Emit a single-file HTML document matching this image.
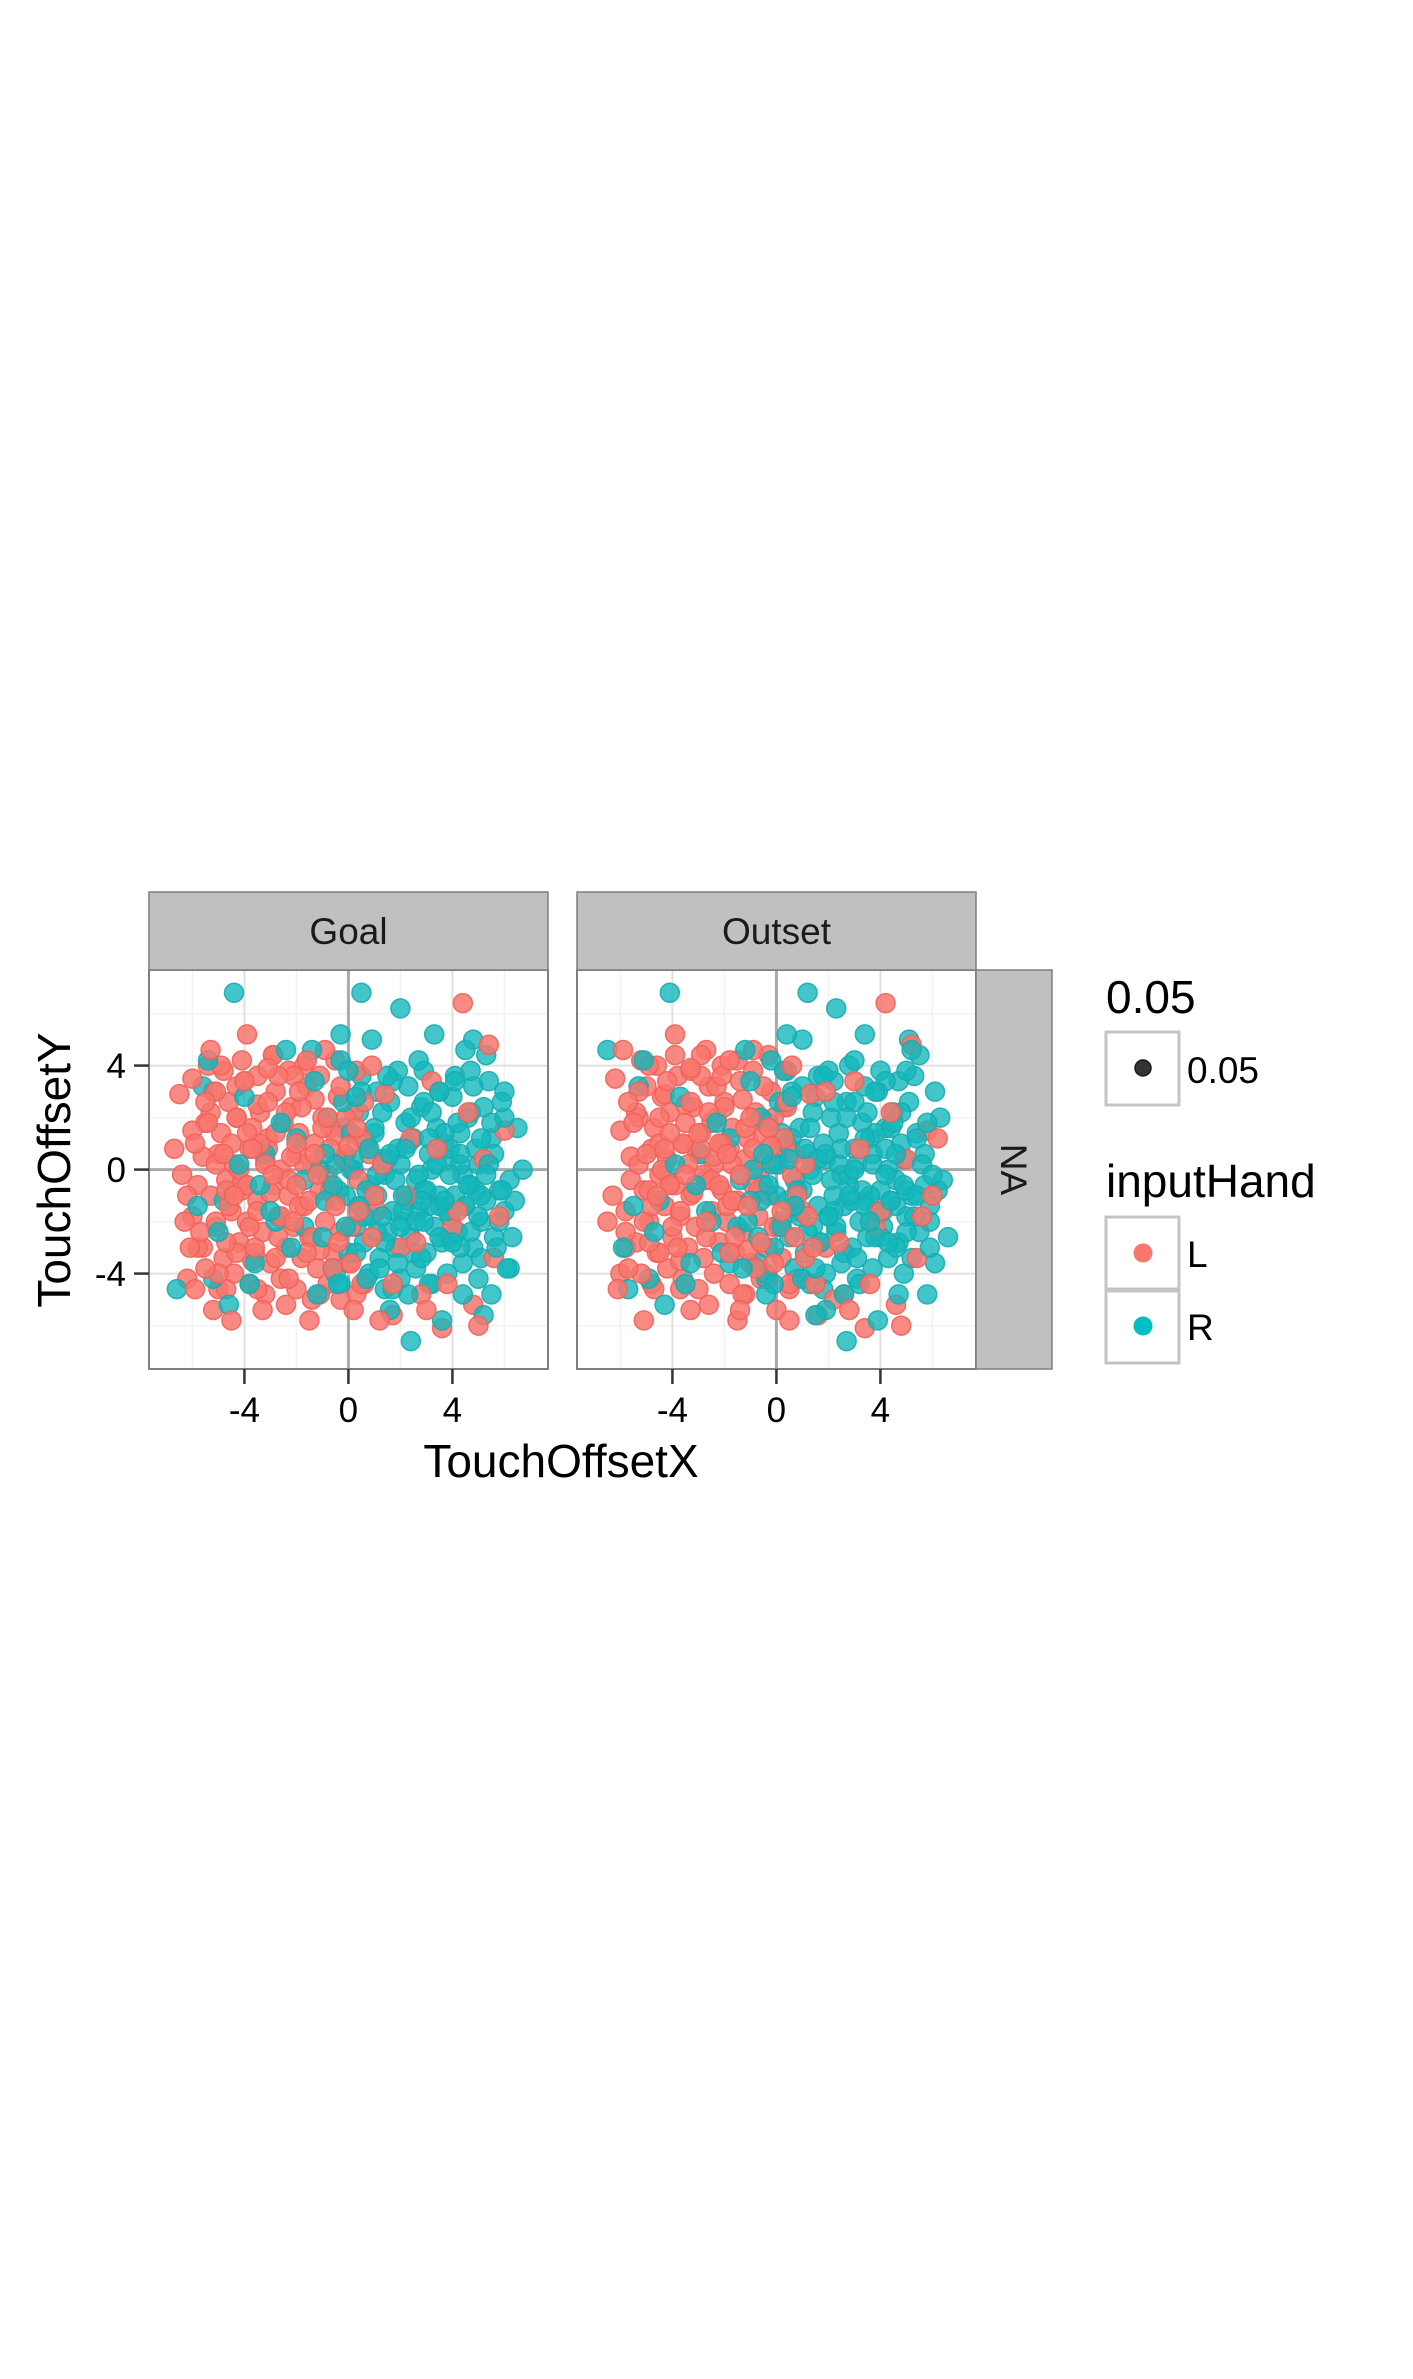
<!DOCTYPE html>
<html><head><meta charset="utf-8"><style>
html,body{margin:0;padding:0;background:#fff;}
svg{display:block;font-family:"Liberation Sans",Arial,sans-serif;}
</style></head><body>
<svg id="chart" width="1413" height="2379" viewBox="0 0 1413 2379" xmlns="http://www.w3.org/2000/svg">
<rect width="1413" height="2379" fill="#fff"/>
<g id="panels"></g>
<g id="strips">
<rect x="149" y="892" width="399" height="78" fill="#c0c0c0" stroke="#7f7f7f" stroke-width="1.5"/>
<text x="348.5" y="944" font-size="37" text-anchor="middle" fill="#1a1a1a">Goal</text>
<rect x="577" y="892" width="399" height="78" fill="#c0c0c0" stroke="#7f7f7f" stroke-width="1.5"/>
<text x="776.5" y="944" font-size="37" text-anchor="middle" fill="#1a1a1a">Outset</text>
<rect x="976" y="970" width="76" height="399" fill="#c0c0c0" stroke="#7f7f7f" stroke-width="1.5"/>
<text transform="translate(1001,1169.5) rotate(90)" font-size="37" text-anchor="middle" fill="#1a1a1a">NA</text>
</g>
<text transform="translate(70,1170) rotate(-90)" font-size="46" text-anchor="middle" fill="#000">TouchOffsetY</text>
<text x="561" y="1477" font-size="46" text-anchor="middle" fill="#000">TouchOffsetX</text>
<g>
<text x="1106" y="1013" font-size="46" fill="#000">0.05</text>
<rect x="1106" y="1032" width="73" height="73" fill="#fff" stroke="#c4c4c4" stroke-width="3"/>
<circle cx="1143" cy="1068" r="8" fill="#333" stroke="#1a1a1a" stroke-width="1.5"/>
<text x="1187" y="1083" font-size="37" fill="#000">0.05</text>
<text x="1106" y="1197" font-size="46" fill="#000">inputHand</text>
<rect x="1106" y="1217" width="73" height="72" fill="#fff" stroke="#c4c4c4" stroke-width="3"/>
<circle cx="1143" cy="1253" r="9.5" fill="#F8766D"/>
<text x="1187" y="1267" font-size="37" fill="#000">L</text>
<rect x="1106" y="1291" width="73" height="72" fill="#fff" stroke="#c4c4c4" stroke-width="3"/>
<circle cx="1143" cy="1326" r="9.5" fill="#00BFC4"/>
<text x="1187" y="1340" font-size="37" fill="#000">R</text>
</g>
</svg>
<script>
const xTicks=[-4,0,4];
const yTicks=[4,0,-4];
const tickLabels=["-4","0","4"];
const yTickLabels=["4","0","-4"];
const facets=["Goal","Outset"];

const goalLX=[-6.5,-6.2,-6.0,-5.8,-5.6,-5.3,-5.1,-4.9,-4.7,-4.5,-4.3,-4.1,-3.9,-3.7,-3.5,-3.3,-3.1,-2.9,-2.7,-2.5,-2.3,-2.1,-1.9,-1.7,-1.5,-1.3,-1.1,-0.9,-0.7,-0.5,-0.3,-0.1,0.1,0.3,0.5,0.8,1.1,1.4,1.7,2.0,2.4,2.8,3.2,3.6,4.0,4.4,4.8,5.2,5.6,6.0,-6.4,-6.0,-5.7,-5.4,-5.0,-4.6,-4.2,-3.8,-3.4,-3.0,-2.6,-2.2,-1.8,-1.4,-1.0,-0.6,-0.2,0.2,0.6,1.0,-5.9,-5.5,-5.1,-4.7,-4.3,-3.9,-3.5,-3.1,-2.7,-2.3,-1.9,-1.5,-1.1,-0.7,-0.3,0.1,0.5,0.9,1.3,1.7,-6.7,-6.3,-5.9,-5.5,-5.1,-4.7,-4.3,-3.9,-3.5,-3.1,-2.8,-2.4,-2.0,-1.6,-1.2,-0.8,-0.4,0.0,0.4,0.9,-5.2,-4.8,-4.4,-4.0,-3.6,-3.2,-2.8,-2.4,-2.0,-1.6,2.2,2.6,3.0,3.4,3.8,4.2,4.6,5.0,5.4,5.8,-6.1,-5.3,-4.5,-3.7,-2.9,-2.1,-1.3,-0.5,0.3,1.2];
const goalLY=[2.9,-1.0,1.5,-3.0,0.5,2.2,-2.0,4.0,-4.6,1.0,3.2,-0.5,5.2,-3.5,2.5,-5.4,0.8,4.4,-2.6,1.8,-4.2,3.6,-1.4,0.2,-5.8,2.7,-3.1,4.6,-0.8,1.3,-5.0,2.0,-2.2,3.8,-4.4,0.6,-1.6,2.9,-5.6,-3.0,1.2,-4.8,3.4,-6.1,-2.2,6.4,-5.2,0.4,-3.4,1.5,-0.2,3.5,-2.4,1.8,-4.0,-1.4,0.0,-2.2,1.0,-0.9,-1.8,0.5,2.4,-2.6,1.6,-3.8,0.4,-5.4,2.6,-1.0,1.0,-3.8,3.0,-0.8,-3.2,1.4,-4.6,2.6,3.6,-0.4,3.0,-1.2,-4.8,0.8,3.2,-3.6,1.2,-2.6,0.2,-4.4,0.8,-2.0,-4.6,2.6,0.2,-2.8,2.0,-0.6,-1.6,3.9,-3.4,2.2,-0.6,4.2,-0.2,2.0,-2.8,0.9,-1.6,4.0,-5.4,0.6,-1.0,3.4,-3.0,0.2,1.4,-5.2,1.0,-3.2,-1.0,-2.8,-5.4,0.8,-4.4,-1.6,2.2,-6.0,4.8,-1.8,-3.0,4.6,-5.8,0.8,-0.2,-2.0,0.6,-1.4,1.6,-5.8];
const goalRX=[6.5,6.2,6.0,5.8,5.6,5.3,5.1,4.9,4.7,4.5,4.3,4.1,3.9,3.7,3.5,3.3,3.1,2.9,2.7,2.5,2.3,2.1,1.9,1.7,1.5,1.3,1.1,0.9,0.7,0.5,0.3,0.1,-0.1,-0.3,-0.5,-0.8,-1.1,-1.4,-1.7,-2.0,-2.4,-2.8,-3.2,-3.6,-4.0,-4.4,-4.8,-5.2,-5.6,-6.6,6.4,6.0,5.7,5.4,5.0,4.6,4.2,3.8,3.4,3.0,2.6,2.2,1.8,1.4,1.0,0.6,0.2,-0.2,-0.6,-1.0,5.9,5.5,5.1,4.7,4.3,3.9,3.5,3.1,2.7,2.3,1.9,1.5,1.1,0.7,0.3,-0.1,-0.5,-0.9,-1.3,-1.7,6.7,6.3,5.9,5.5,5.1,4.7,4.3,3.9,3.5,3.1,2.8,2.4,2.0,1.6,1.2,0.8,0.4,0.0,-0.4,-0.9,5.2,4.8,4.4,4.0,3.6,3.2,2.8,2.4,2.0,1.6,-2.2,-2.6,-3.0,-3.4,-3.8,-4.2,-4.6,-5.0,-5.4,-5.8,6.1,5.3,4.5,3.7,2.9,2.1,1.3,0.5,-0.3,-1.2];
const goalRY=[1.6,-0.4,3.0,-2.0,0.6,4.4,-3.4,-0.8,2.2,-1.4,0.2,3.4,-2.6,1.4,-1.0,5.2,-4.4,2.6,-0.2,-3.2,1.0,-1.6,3.8,-4.6,0.4,2.2,-2.4,5.0,-0.8,3.0,-3.2,1.4,-1.0,4.2,-4.0,2.0,0.0,4.6,-2.2,1.2,4.6,-2.0,0.6,-3.6,2.8,6.8,-1.2,-4.2,3.2,-4.6,-1.2,2.0,-3.0,0.2,-1.8,-0.6,1.8,-1.6,0.2,-0.8,-2.0,0.8,-0.4,-2.8,1.6,-1.8,0.4,2.6,-0.6,-2.6,2.6,-4.8,1.2,3.8,-3.0,0.8,3.0,-1.4,4.2,-4.8,-3.6,3.6,-0.2,-4.2,2.8,-2.2,0.2,-1.2,3.4,-0.4,0.0,-2.6,-0.8,1.8,-1.0,-2.4,0.6,-0.2,-2.6,1.2,-1.2,2.0,-2.2,0.6,-3.8,0.8,-1.4,3.8,-4.4,0.6,-5.6,5.0,-4.8,-2.8,-5.8,2.2,-3.4,-6.6,6.2,-5.4,-3.0,1.8,-1.6,-0.6,-4.4,0.2,-5.2,-2.4,4.2,-1.4,-3.8,-0.2,4.6,-1.2,-2.0,-1.0,-1.8,6.8,5.2,-4.8];
const goalLCoreX=[-5.2,-4.6,-4.0,-3.4,-2.8,-2.2,-1.6,-1.0,-0.4,0.2,-5.5,-4.9,-4.3,-3.7,-3.1,-2.5,-1.9,-1.3,-0.7,-0.1,-5.0,-4.4,-3.8,-3.2,-2.6,-2.0,-1.4,-0.8,-0.2,0.4,-5.8,-5.3,-4.7,-4.1,-3.5,-2.9,-2.3,-1.7,-1.1,-0.5,-6.0,-5.1,-4.5,-3.9,-3.3,-2.7,-2.1,-1.5,-0.9,-0.3,-5.6,-4.8,-4.2,-3.6,-3.0,-2.4,-1.8,-1.2,-0.6,0.0,-5.4,-4.8,-4.1,-3.5,-2.9,-2.3,-1.7,-1.1,-0.5,0.6,-6.2,-5.0,-4.4,-3.8,-3.2,-2.6,-2.0,-1.4,-0.8,0.3];
const goalLCoreY=[3.0,2.6,3.4,2.2,3.0,2.4,3.2,2.0,2.8,2.2,1.8,1.4,2.0,1.6,1.2,1.8,1.4,1.0,1.6,0.6,0.6,0.2,0.8,0.4,0.0,0.6,0.2,-0.2,0.4,-0.4,-0.6,-1.0,-0.4,-0.8,-1.2,-0.6,-1.0,-1.4,-0.8,-1.2,-1.8,-2.2,-1.6,-2.0,-2.4,-1.8,-2.2,-2.6,-2.0,-2.4,-3.0,-3.4,-2.8,-3.2,-3.6,-3.0,-3.4,-3.8,-3.2,-3.6,4.0,3.8,4.2,3.6,4.4,3.8,4.0,3.6,4.2,-4.4,-4.2,-4.6,-4.0,-4.4,-4.8,-4.2,-4.6,-5.0,-4.4,-4.8];
const goalRCoreX=[5.2,4.6,4.0,3.4,2.8,2.2,1.6,1.0,0.4,-0.2,5.5,4.9,4.3,3.7,3.1,2.5,1.9,1.3,0.7,0.1,5.0,4.4,3.8,3.2,2.6,2.0,1.4,0.8,0.2,-0.4,5.8,5.3,4.7,4.1,3.5,2.9,2.3,1.7,1.1,0.5,6.0,5.1,4.5,3.9,3.3,2.7,2.1,1.5,0.9,0.3,5.6,4.8,4.2,3.6,3.0,2.4,1.8,1.2,0.6,0.0,5.4,4.8,4.1,3.5,2.9,2.3,1.7,1.1,0.5,-0.6,6.2,5.0,4.4,3.8,3.2,2.6,2.0,1.4,0.8,-0.3];
const goalRCoreY=[2.4,2.0,2.8,1.6,2.4,1.8,2.6,1.4,2.2,1.6,1.2,0.8,1.4,1.0,0.6,1.2,0.8,0.4,1.0,0.0,0.2,-0.2,0.4,0.0,-0.4,0.2,-0.2,-0.6,0.0,-0.8,-0.8,-1.2,-0.6,-1.0,-1.4,-0.8,-1.2,-1.6,-1.0,-1.4,-1.6,-2.0,-1.4,-1.8,-2.2,-1.6,-2.0,-2.4,-1.8,-2.2,-2.6,-3.0,-2.4,-2.8,-3.2,-2.6,-3.0,-3.4,-2.8,-3.2,3.4,3.2,3.6,3.0,3.8,3.2,3.4,3.0,3.6,-3.8,-3.8,-4.2,-3.6,-4.0,-4.4,-3.8,-4.2,-4.6,-4.0,-4.4];
const outsetLX=[-6.3,-6.0,-5.8,-5.6,-5.4,-5.1,-4.9,-4.7,-4.5,-4.3,-4.1,-3.9,-3.7,-3.5,-3.3,-3.1,-2.9,-2.7,-2.5,-2.3,-2.1,-1.9,-1.7,-1.5,-1.3,-1.1,-0.9,-0.7,-0.5,-0.3,-0.1,0.1,0.3,0.5,0.7,1.0,1.3,1.6,1.9,2.2,2.6,3.0,3.4,3.8,4.2,4.6,5.0,5.4,5.8,6.2,-6.2,-5.8,-5.5,-5.2,-4.8,-4.4,-4.0,-3.6,-3.2,-2.8,-2.4,-2.0,-1.6,-1.2,-0.8,-0.4,0.0,0.4,0.8,1.2,-5.7,-5.3,-4.9,-4.5,-4.1,-3.7,-3.3,-2.9,-2.5,-2.1,-1.7,-1.3,-0.9,-0.5,-0.1,0.3,0.7,1.1,1.5,1.9,-6.5,-6.1,-5.7,-5.3,-4.9,-4.5,-4.1,-3.7,-3.3,-2.9,-2.6,-2.2,-1.8,-1.4,-1.0,-0.6,-0.2,0.2,0.6,1.1,-5.0,-4.6,-4.2,-3.8,-3.4,-3.0,-2.6,-2.2,-1.8,-1.4,2.4,2.8,3.2,3.6,4.0,4.4,4.8,5.2,5.6,6.0,-5.9,-5.1,-4.3,-3.5,-2.7,-1.9,-1.1,-0.3,0.5,1.4];
const outsetLY=[-1.0,1.5,-3.0,0.5,2.2,-2.0,4.0,-4.6,1.0,2.9,-0.5,5.2,-3.5,2.5,-5.4,0.8,4.4,-2.6,1.8,3.2,3.6,-1.4,0.2,-5.8,2.7,-3.1,4.6,-0.8,1.3,-4.2,2.0,-2.2,3.8,-4.4,0.6,-1.6,2.9,-5.6,-3.0,-5.0,-4.8,3.4,-6.1,-2.2,6.4,-5.2,0.4,-3.4,1.5,1.2,3.5,-2.4,1.8,-4.0,-1.4,0.0,-2.2,1.0,-0.9,-0.2,0.5,2.4,-2.6,1.6,-3.8,0.4,-5.4,2.6,-1.0,-1.8,-3.8,3.0,-0.8,-3.2,1.4,-4.6,2.6,3.6,-0.4,1.0,-1.2,-4.8,0.8,3.2,-3.6,1.2,-2.6,0.2,-4.4,3.0,-2.0,-4.6,2.6,0.2,-2.8,2.0,-0.6,-1.6,3.9,0.8,2.2,-0.6,4.2,-0.2,2.0,-2.8,0.9,-1.6,4.0,-3.4,0.6,-1.0,3.4,-3.0,0.2,1.4,-5.2,1.0,-3.2,-5.4,-2.8,-5.4,0.8,-4.4,-1.6,2.2,-6.0,4.8,-1.8,-1.0,4.6,-5.8,0.8,-0.2,-2.0,0.6,-1.4,1.6,-5.8,-3.0];
const outsetRX=[6.4,6.1,5.9,5.7,5.5,5.2,5.0,4.8,4.6,4.4,4.2,4.0,3.8,3.6,3.4,3.2,3.0,2.8,2.6,2.4,2.2,2.0,1.8,1.6,1.4,1.2,1.0,0.8,0.6,0.4,0.2,0.0,-0.2,-0.4,-0.6,-0.9,-1.2,-1.5,-1.8,-2.1,-2.5,-2.9,-3.3,-3.7,-4.1,-4.5,-4.9,-5.3,-5.7,-6.5,6.3,5.9,5.6,5.3,4.9,4.5,4.1,3.7,3.3,2.9,2.5,2.1,1.7,1.3,0.9,0.5,0.1,-0.3,-0.7,-1.1,5.8,5.4,5.0,4.6,4.2,3.8,3.4,3.0,2.6,2.2,1.8,1.4,1.0,0.6,0.2,-0.2,-0.6,-1.0,-1.4,-1.8,6.6,6.2,5.8,5.4,5.0,4.6,4.2,3.8,3.4,3.0,2.7,2.3,1.9,1.5,1.1,0.7,0.3,-0.1,-0.5,-1.0,5.1,4.7,4.3,3.9,3.5,3.1,2.7,2.3,1.9,1.5,-2.3,-2.7,-3.1,-3.5,-3.9,-4.3,-4.7,-5.1,-5.5,-5.9,6.0,5.2,4.4,3.6,2.8,2.0,1.2,0.4,-0.4,-1.3];
const outsetRY=[-0.4,3.0,-2.0,0.6,4.4,-3.4,-0.8,2.2,-1.4,1.6,3.4,-2.6,1.4,-1.0,5.2,-4.4,2.6,-0.2,-3.2,0.2,-1.6,3.8,-4.6,0.4,2.2,-2.4,5.0,-0.8,3.0,1.0,1.4,-1.0,4.2,-4.0,2.0,0.0,4.6,-2.2,1.2,-3.2,-2.0,0.6,-3.6,2.8,6.8,-1.2,-4.2,3.2,-4.6,4.6,2.0,-3.0,0.2,-1.8,-0.6,1.8,-1.6,0.2,-0.8,-1.2,0.8,-0.4,-2.8,1.6,-1.8,0.4,2.6,-0.6,-2.6,-2.0,-4.8,1.2,3.8,-3.0,0.8,3.0,-1.4,4.2,-4.8,2.6,3.6,-0.2,-4.2,2.8,-2.2,0.2,-1.2,3.4,-0.4,-3.6,-2.6,-0.8,1.8,-1.0,-2.4,0.6,-0.2,-2.6,1.2,0.0,2.0,-2.2,0.6,-3.8,0.8,-1.4,3.8,-4.4,0.6,-1.2,5.0,-4.8,-2.8,-5.8,2.2,-3.4,-6.6,6.2,-5.4,-5.6,1.8,-1.6,-0.6,-4.4,0.2,-5.2,-2.4,4.2,-1.4,-3.0,-0.2,4.6,-1.2,-2.0,-1.0,-1.8,6.8,5.2,-4.8,-3.8];
const outsetLCoreX=[-5.0,-4.4,-3.8,-3.2,-2.6,-2.0,-1.4,-0.8,-0.2,0.4,-5.3,-4.7,-4.1,-3.5,-2.9,-2.3,-1.7,-1.1,-0.5,0.1,-4.8,-4.2,-3.6,-3.0,-2.4,-1.8,-1.2,-0.6,0.0,0.6,-5.6,-5.1,-4.5,-3.9,-3.3,-2.7,-2.1,-1.5,-0.9,-0.3,-5.8,-4.9,-4.3,-3.7,-3.1,-2.5,-1.9,-1.3,-0.7,-0.1,-5.4,-4.6,-4.0,-3.4,-2.8,-2.2,-1.6,-1.0,-0.4,0.2,-5.2,-4.6,-3.9,-3.3,-2.7,-2.1,-1.5,-0.9,-0.3,0.8,-6.0,-4.8,-4.2,-3.6,-3.0,-2.4,-1.8,-1.2,-0.6,0.5];
const outsetLCoreY=[3.2,2.8,3.6,2.4,3.2,2.6,3.4,2.2,3.0,2.4,2.0,1.6,2.2,1.8,1.4,2.0,1.6,1.2,1.8,0.8,0.8,0.4,1.0,0.6,0.2,0.8,0.4,0.0,0.6,-0.2,-0.4,-0.8,-0.2,-0.6,-1.0,-0.4,-0.8,-1.2,-0.6,-1.0,-1.6,-2.0,-1.4,-1.8,-2.2,-1.6,-2.0,-2.4,-1.8,-2.2,-2.8,-3.2,-2.6,-3.0,-3.4,-2.8,-3.2,-3.6,-3.0,-3.4,4.2,4.0,4.4,3.8,4.6,4.0,4.2,3.8,4.4,-4.2,-4.0,-4.4,-3.8,-4.2,-4.6,-4.0,-4.4,-4.8,-4.2,-4.6];
const outsetRCoreX=[5.1,4.5,3.9,3.3,2.7,2.1,1.5,0.9,0.3,-0.3,5.4,4.8,4.2,3.6,3.0,2.4,1.8,1.2,0.6,0.0,4.9,4.3,3.7,3.1,2.5,1.9,1.3,0.7,0.1,-0.5,5.7,5.2,4.6,4.0,3.4,2.8,2.2,1.6,1.0,0.4,5.9,5.0,4.4,3.8,3.2,2.6,2.0,1.4,0.8,0.2,5.5,4.7,4.1,3.5,2.9,2.3,1.7,1.1,0.5,-0.1,5.3,4.7,4.0,3.4,2.8,2.2,1.6,1.0,0.4,-0.7,6.1,4.9,4.3,3.7,3.1,2.5,1.9,1.3,0.7,-0.4];
const outsetRCoreY=[2.6,2.2,3.0,1.8,2.6,2.0,2.8,1.6,2.4,1.8,1.4,1.0,1.6,1.2,0.8,1.4,1.0,0.6,1.2,0.2,0.4,0.0,0.6,0.2,-0.2,0.4,0.0,-0.4,0.2,-0.6,-0.6,-1.0,-0.4,-0.8,-1.2,-0.6,-1.0,-1.4,-0.8,-1.2,-1.4,-1.8,-1.2,-1.6,-2.0,-1.4,-1.8,-2.2,-1.6,-2.0,-2.4,-2.8,-2.2,-2.6,-3.0,-2.4,-2.8,-3.2,-2.6,-3.0,3.6,3.4,3.8,3.2,4.0,3.4,3.6,3.2,3.8,-3.6,-3.6,-4.0,-3.4,-3.8,-4.2,-3.6,-4.0,-4.4,-3.8,-4.2];

const NS="http://www.w3.org/2000/svg";
const PW=399, PH=399, PTOP=970, UNIT=26;
const panelLeft=[149,577];
const lo=-7.67;
function sx(p,v){return panelLeft[p]+(v-lo)*UNIT;}
function sy(v){return PTOP+PH-(v-lo)*UNIT;}
function mk(tag,attrs,parent){const e=document.createElementNS(NS,tag);for(const k in attrs)e.setAttribute(k,attrs[k]);parent.appendChild(e);return e;}
const root=document.getElementById('panels');
const data=[
  [goalLCoreX.concat(goalLX),goalLCoreY.concat(goalLY),goalRCoreX.concat(goalRX),goalRCoreY.concat(goalRY)],
  [outsetLCoreX.concat(outsetLX),outsetLCoreY.concat(outsetLY),outsetRCoreX.concat(outsetRX),outsetRCoreY.concat(outsetRY)]
];
const minor=[-6,-2,2,6];
for(let p=0;p<2;p++){
  const g=mk('g',{},root);
  
  
  const bg=mk('rect',{x:panelLeft[p],y:PTOP,width:PW,height:PH,fill:'#fff'},g);
  
  
  for(const v of minor){
    const a=mk('line',{x1:sx(p,v),x2:sx(p,v),y1:PTOP,y2:PTOP+PH,stroke:'#f2f2f2','stroke-width':1.5},g);
    
    
    const b=mk('line',{x1:panelLeft[p],x2:panelLeft[p]+PW,y1:sy(v),y2:sy(v),stroke:'#f2f2f2','stroke-width':1.5},g);
    
    
  }
  for(const v of xTicks){
    const zero=v===0;
    const a=mk('line',{x1:sx(p,v),x2:sx(p,v),y1:PTOP,y2:PTOP+PH,stroke:zero?'#aaaaaa':'#e0e0e0','stroke-width':zero?3:2},g);
    
    
  }
  for(const v of yTicks){
    const zero=v===0;
    const b=mk('line',{x1:panelLeft[p],x2:panelLeft[p]+PW,y1:sy(v),y2:sy(v),stroke:zero?'#aaaaaa':'#e0e0e0','stroke-width':zero?3:2},g);
    
    
  }
  const [lx,ly,rx,ry]=data[p];
  const n=Math.max(lx.length,rx.length);
  for(let i=0;i<n;i++){
    if(i<lx.length){
      const c=mk('circle',{cx:sx(p,lx[i]),cy:sy(ly[i]),r:9.5,fill:'#F8766D','fill-opacity':0.85,stroke:'#f0625a','stroke-opacity':0.9,'stroke-width':1.5},g);
      
      
    }
    if(i<rx.length){
      const c=mk('circle',{cx:sx(p,rx[i]),cy:sy(ry[i]),r:9.5,fill:'#13B8BC','fill-opacity':0.8,stroke:'#1aabb0','stroke-opacity':0.9,'stroke-width':1.5},g);
      
      
    }
  }
  const br=mk('rect',{x:panelLeft[p],y:PTOP,width:PW,height:PH,fill:'none',stroke:'#7f7f7f','stroke-width':2},g);
  
  
  xTicks.forEach((v,i)=>{
    const t=mk('line',{x1:sx(p,v),x2:sx(p,v),y1:PTOP+PH,y2:PTOP+PH+15,stroke:'#333','stroke-width':2.5},g);
    
    
    const tx=mk('text',{x:sx(p,v),y:1422,'font-size':35,'text-anchor':'middle',fill:'#000'},g);
    tx.textContent=tickLabels[i];
    
    
  });
}
const ag=mk('g',{},root);


yTicks.forEach((v,i)=>{
  const t=mk('line',{x1:134,x2:149,y1:sy(v),y2:sy(v),stroke:'#333','stroke-width':2.5},ag);
  
  
  const tx=mk('text',{x:126,y:sy(v)+12.5,'font-size':35,'text-anchor':'end',fill:'#000'},ag);
  tx.textContent=yTickLabels[i];
  
  
});
</script>
</body></html>
